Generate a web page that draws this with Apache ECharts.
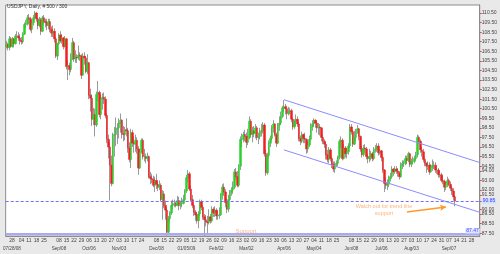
<!DOCTYPE html>
<html><head><meta charset="utf-8">
<script src="https://cdn.jsdelivr.net/npm/echarts@6/dist/echarts.min.js"></script>
<style>html,body{margin:0;padding:0;background:#e9e9e9}#c{width:500px;height:254px}</style>
</head><body><div id="c"></div>
<script>
const chartTitle = 'USDJPY, Daily, # 500 / 300';
const startDate = '2008-07-21', endDate = '2009-10-05', lastLabelDate = '2009-09-28';
// daily candles per month: [open, close, low, high]
const jul08 = [[107.0,107.2,106.8,107.6],[107.2,106.9,106.6,107.4],[106.9,107.8,106.6,108.1],[107.8,107.0,106.9,108.0],[107.0,107.8,106.9,108.0],[107.8,107.3,106.9,107.9],[107.3,108.1,107.2,108.3],[108.1,108.1,107.6,108.6],[108.1,107.9,107.6,108.5]];
const aug08 = [[107.9,107.6,107.2,108.3],[107.6,107.5,107.2,108.0],[107.5,108.3,107.3,108.5],[108.3,109.3,108.2,109.5],[109.3,109.4,108.9,109.8],[109.4,110.0,109.2,110.3],[110.0,109.9,109.3,110.4],[109.9,108.8,108.6,110.1],[108.8,109.5,108.4,109.7],[109.5,110.0,109.2,110.3],[110.0,110.5,109.8,110.7],[110.5,109.9,109.6,110.6],[109.9,109.2,108.8,110.0],[109.2,109.8,109.0,110.1],[109.8,108.6,108.2,110.0],[108.6,110.0,108.5,110.2],[110.0,109.6,109.3,110.3],[109.6,109.5,109.0,109.9],[109.5,109.2,108.7,109.9],[109.2,109.6,108.8,109.9],[109.6,108.8,108.5,109.9]];
const sep08 = [[108.8,108.4,108.0,109.1],[108.4,108.6,108.0,109.2],[108.6,107.8,107.4,108.9],[107.8,106.0,105.8,108.0],[106.0,107.3,105.6,107.4],[107.3,108.2,107.2,108.4],[108.2,107.6,107.4,108.6],[107.6,107.9,107.3,108.3],[107.9,107.0,106.7,108.0],[107.0,107.8,106.9,108.1],[107.8,104.9,104.6,107.9],[104.9,105.0,103.5,105.6],[105.0,104.6,104.0,105.3],[104.6,105.7,104.3,106.3],[105.7,107.4,105.6,107.9],[107.4,105.7,105.4,107.6],[105.7,105.9,105.3,106.6],[105.9,105.8,105.3,106.2],[105.8,106.1,105.6,107.1],[106.1,106.0,105.5,106.4],[106.0,104.0,103.6,106.2],[104.0,106.0,104.0,106.3]];
const oct08 = [[106.0,105.8,105.1,106.4],[105.8,104.4,104.2,106.0],[104.4,105.3,104.1,106.2],[105.3,101.9,101.5,105.4],[101.9,101.6,100.2,102.6],[101.6,99.4,98.7,102.0],[99.4,99.9,98.8,100.6],[99.9,98.8,97.6,100.5],[98.8,102.0,98.6,102.3],[102.0,102.2,101.3,103.4],[102.2,99.9,99.6,102.4],[99.9,101.5,99.4,102.0],[101.5,101.7,100.4,102.1],[101.7,101.5,101.0,102.2],[101.5,99.8,99.5,101.8],[99.8,97.3,96.9,100.0],[97.3,96.5,95.3,97.8],[96.5,94.6,90.9,97.0],[94.6,92.7,92.4,95.6],[92.7,97.8,92.6,98.0],[97.8,97.8,95.5,98.6],[97.8,98.4,96.6,99.6],[98.4,98.5,96.8,99.0]];
const nov08 = [[98.5,99.0,97.4,99.5],[99.0,99.3,98.0,100.0],[99.3,97.9,97.4,99.4],[97.9,97.8,97.1,98.7],[97.8,98.3,97.2,98.6],[98.3,98.2,97.6,99.5],[98.2,96.4,95.9,98.5],[96.4,95.2,94.9,97.0],[95.2,98.0,94.3,98.4],[98.0,96.9,96.5,98.3],[96.9,96.8,95.9,97.6],[96.8,97.2,96.0,97.8],[97.2,96.3,95.8,97.5],[96.3,94.3,93.6,96.6],[94.3,96.0,94.2,96.3],[96.0,97.2,95.8,97.4],[97.2,95.5,95.2,97.4],[95.5,95.5,95.0,96.3],[95.5,95.3,94.8,95.8],[95.3,95.5,95.0,95.9]];
const dec08 = [[95.5,93.4,93.2,95.6],[93.4,93.2,92.6,93.9],[93.2,93.1,92.7,93.7],[93.1,92.5,92.3,93.5],[92.5,93.0,91.8,93.4],[93.0,92.6,92.1,93.7],[92.6,92.3,91.9,93.0],[92.3,92.5,92.0,93.0],[92.5,91.0,90.8,92.7],[91.0,91.6,88.9,92.0],[91.6,90.4,90.1,91.9],[90.4,89.9,88.9,90.9],[89.9,87.6,87.1,90.2],[87.6,89.0,87.5,89.3],[89.0,89.6,88.7,89.8],[89.6,90.4,89.4,90.9],[90.4,90.5,90.0,91.0],[90.5,90.6,90.2,91.0],[90.6,90.4,90.2,90.8],[90.4,90.9,90.3,91.4],[90.9,90.4,89.9,91.3],[90.4,90.6,90.0,90.9],[90.6,90.6,90.2,91.2]];
const jan09 = [[90.6,91.0,90.5,91.5],[91.0,91.9,90.8,92.1],[91.9,93.3,91.7,93.6],[93.3,93.7,92.8,94.1],[93.7,92.1,91.9,93.9],[92.1,91.0,90.8,92.5],[91.0,90.4,90.1,91.5],[90.4,89.7,89.3,90.6],[89.7,89.4,88.8,89.9],[89.4,88.8,88.5,89.6],[88.8,89.5,88.0,89.8],[89.5,90.8,89.3,91.0],[90.8,90.2,89.9,91.0],[90.2,89.2,88.9,90.4],[89.2,88.9,87.1,89.5],[88.9,88.7,88.2,89.4],[88.7,88.6,87.5,89.3],[88.6,89.2,88.4,90.0],[89.2,88.8,88.5,89.5],[88.8,90.0,88.6,90.3],[90.0,89.6,89.2,90.2],[89.6,89.9,89.2,90.3]];
const feb09 = [[89.9,89.3,88.9,90.1],[89.3,89.4,88.9,89.9],[89.4,89.4,89.0,90.2],[89.4,91.5,89.3,91.7],[91.5,92.3,91.0,92.6],[92.3,91.8,91.4,92.7],[91.8,90.7,90.2,92.1],[90.7,90.0,89.6,91.1],[90.0,91.0,89.7,91.5],[91.0,91.8,90.9,92.0],[91.8,92.0,91.4,92.3],[92.0,92.3,91.6,92.9],[92.3,93.9,92.1,94.2],[93.9,93.4,93.1,94.3],[93.4,92.5,92.3,94.0],[92.5,94.5,92.3,94.7],[94.5,97.3,94.1,97.6],[97.3,97.3,96.5,97.9],[97.3,97.8,97.0,98.1],[97.8,97.6,97.1,98.3]];
const mar09 = [[97.6,97.0,96.4,98.0],[97.0,97.5,96.7,98.4],[97.5,99.2,97.3,99.7],[99.2,97.8,97.5,99.4],[97.8,98.2,97.0,98.6],[98.2,97.9,97.5,98.7],[97.9,98.5,97.4,98.9],[98.5,97.5,97.2,98.7],[97.5,97.6,96.8,98.0],[97.6,98.1,97.3,98.5],[98.1,98.2,97.6,98.9],[98.2,98.8,97.9,99.1],[98.8,95.8,95.5,99.0],[95.8,93.8,93.5,96.2],[93.8,95.6,93.6,95.9],[95.6,96.9,95.4,97.2],[96.9,97.4,96.5,97.7],[97.4,98.5,97.2,98.8],[98.5,98.9,98.0,99.3],[98.9,97.8,97.6,99.0],[97.8,96.9,96.5,98.0],[96.9,98.8,96.8,99.0]];
const apr09 = [[98.8,99.0,98.2,99.7],[99.0,99.7,98.8,100.2],[99.7,100.6,99.5,100.8],[100.6,100.7,100.2,101.4],[100.7,100.5,99.9,101.0],[100.5,100.0,99.4,100.8],[100.0,100.2,99.8,100.7],[100.2,100.3,99.9,100.6],[100.3,99.4,99.1,100.5],[99.4,98.6,98.3,99.6],[98.6,99.2,98.4,99.4],[99.2,99.4,98.7,99.9],[99.4,98.9,98.6,99.7],[98.9,97.4,97.1,99.1],[97.4,97.1,96.7,97.7],[97.1,97.8,96.9,98.1],[97.8,97.4,96.9,97.9],[97.4,97.3,96.9,98.0],[97.3,96.3,95.8,97.4],[96.3,96.7,95.9,97.1],[96.7,97.3,96.5,97.7],[97.3,98.6,97.2,99.0]];
const may09 = [[98.6,98.9,98.2,99.3],[98.9,99.3,98.6,99.5],[99.3,99.0,98.5,99.4],[99.0,98.5,98.0,99.3],[98.5,98.6,97.8,99.0],[98.6,98.5,97.7,98.9],[98.5,97.5,97.1,98.6],[97.5,97.1,96.8,97.8],[97.1,96.8,96.4,97.3],[96.8,95.7,95.2,97.0],[95.7,95.2,94.9,96.2],[95.2,96.2,94.8,96.5],[96.2,95.3,95.0,96.4],[95.3,94.7,94.3,95.5],[94.7,94.2,93.9,95.0],[94.2,94.7,93.8,95.0],[94.7,94.8,94.4,95.1],[94.8,95.4,94.5,95.6],[95.4,97.1,95.2,97.3],[97.1,97.2,96.4,97.6],[97.2,95.3,95.1,97.4]];
const jun09 = [[95.3,96.4,95.2,96.8],[96.4,95.8,95.4,96.6],[95.8,96.0,95.3,96.4],[96.0,96.6,95.7,96.9],[96.6,98.6,96.4,98.9],[98.6,98.1,97.8,98.9],[98.1,96.8,96.5,98.3],[96.8,97.5,96.7,98.2],[97.5,98.0,97.1,98.4],[98.0,98.4,97.9,98.8],[98.4,97.6,97.2,98.5],[97.6,96.3,96.0,97.7],[96.3,95.7,95.4,96.6],[95.7,96.4,95.5,96.7],[96.4,96.3,95.9,96.8],[96.3,95.5,95.2,96.5],[95.5,95.3,94.8,95.8],[95.3,95.5,94.9,96.3],[95.5,95.8,95.1,96.1],[95.8,95.3,95.0,96.0],[95.3,96.2,95.1,96.5],[96.2,96.3,95.9,96.7]];
const jul09 = [[96.3,96.6,96.0,96.9],[96.6,95.9,95.6,96.9],[95.9,96.1,95.7,96.3],[96.1,95.4,95.0,96.2],[95.4,94.1,93.8,95.6],[94.1,92.7,91.8,94.2],[92.7,92.5,92.1,93.3],[92.5,92.6,92.0,93.1],[92.6,93.2,92.3,93.5],[93.2,93.4,92.9,93.8],[93.4,94.2,93.3,94.5],[94.2,93.9,93.5,94.3],[93.9,94.2,93.7,94.5],[94.2,94.0,93.7,94.5],[94.0,93.8,93.4,94.3],[93.8,93.4,93.1,94.0],[93.4,94.6,93.3,94.9],[94.6,94.8,94.2,95.1],[94.8,94.8,94.4,95.1],[94.8,95.3,94.6,95.6],[95.3,95.1,94.7,95.6],[95.1,95.8,94.9,96.0],[95.8,94.7,94.4,95.9]];
const aug09 = [[94.7,95.0,94.4,95.3],[95.0,95.0,94.7,95.5],[95.0,95.3,94.8,95.6],[95.3,95.7,95.1,96.0],[95.7,97.5,95.4,97.8],[97.5,97.1,96.8,97.7],[97.1,96.2,95.9,97.3],[96.2,96.0,95.5,96.5],[96.0,95.2,94.9,96.3],[95.2,94.8,94.5,95.4],[94.8,94.5,93.8,94.9],[94.5,94.6,94.1,95.0],[94.6,93.9,93.6,94.9],[93.9,94.4,93.8,94.7],[94.4,94.6,94.0,95.2],[94.6,94.6,94.2,95.0],[94.6,94.1,93.8,94.9],[94.1,94.1,93.7,94.5],[94.1,93.6,93.3,94.3],[93.6,93.6,93.3,94.0],[93.6,93.0,92.8,93.8]];
const sep09 = [[93.0,92.9,92.6,93.5],[92.9,92.3,91.8,93.1],[92.3,92.6,92.0,92.9],[92.6,93.0,92.3,93.4],[93.0,92.6,92.4,93.2],[92.6,92.2,91.9,92.9],[92.2,91.9,91.5,92.4],[91.9,91.3,90.9,92.2],[91.3,90.85,90.3,91.5]];

const yTickLabels = [110.5,109.5,108.5,107.5,106.5,105.5,104.5,103.5,102.5,101.5,100.5,99.5,98.5,97.5,96.5,95.5,94.5,94.0,93.0,92.0,91.5,90.85,90.0,89.5,88.5,87.5];
const currentPrice = 90.85;
const supportLevel = 87.47;
const upperChannel = [['2009-04-06', 101.44], ['2009-10-05', 94.9]];
const lowerChannel = [['2009-04-06', 96.2], ['2009-10-05', 89.7]];
const arrowLine = [['2009-07-29', 89.7], ['2009-09-03', 90.23]];
const skipMondays = ['2008-07-21', '2008-09-01', '2008-12-01', '2009-06-01'];
const monthLabels = {'2008-07-28':'07/28/08','2008-09-08':'Sep/08','2008-10-06':'Oct/06','2008-11-03':'Nov/03','2008-12-08':'Dec/08','2009-01-05':'01/05/09','2009-02-02':'Feb/02','2009-03-02':'Mar/02','2009-04-06':'Apr/06','2009-05-04':'May/04','2009-06-08':'Jun/08','2009-07-06':'Jul/06','2009-08-03':'Aug/03','2009-09-07':'Sep/07'};

// trading-day categories
const dates = [];
for (let d = new Date(startDate + 'T00:00:00Z'); d <= new Date(endDate + 'T00:00:00Z'); d.setUTCDate(d.getUTCDate() + 1)) {
  const wd = d.getUTCDay();
  if (wd === 0 || wd === 6) continue;
  dates.push(d.toISOString().slice(0, 10));
}
const ohlc = [].concat(jul08, aug08, sep08, oct08, nov08, dec08, jan09, feb09, mar09, apr09, may09, jun09, jul09, aug09, sep09);
const wickData = ohlc.map(r => [r[0], r[1], r[2], r[3]]);
const bodyData = ohlc.map(r => [r[0], r[1], Math.min(r[0], r[1]), Math.max(r[0], r[1])]);
const firstLabel = '2008-07-28';

function isLabelDay(i) {
  const s = dates[i];
  const wd = new Date(s + 'T00:00:00Z').getUTCDay();
  return wd === 1 && skipMondays.indexOf(s) < 0 && s <= lastLabelDate;
}
function isMonthDay(i) { return !!monthLabels[dates[i]]; }

const chart = echarts.init(document.getElementById('c'), null, {renderer: 'canvas'});
const FONT = 'Liberation Sans';
chart.setOption({
  animation: false,
  backgroundColor: '#e9e9e9',
  title: {text: chartTitle, left: 2, top: -1, textStyle: {fontSize: 5, fontWeight: 'normal', color: '#333', fontFamily: FONT}},
  grid: {left: 2, right: 19, top: 5, bottom: 18, show: true, backgroundColor: '#ffffff', borderColor: '#8c8c8c', borderWidth: 1},
  xAxis: [{
    type: 'category', data: dates, boundaryGap: true,
    axisLine: {lineStyle: {color: '#8c8c8c'}},
    axisTick: {interval: (i) => isLabelDay(i), alignWithLabel: true, length: 2, lineStyle: {color: '#e04848'}},
    axisLabel: {
      interval: (i) => isLabelDay(i), margin: 2, fontSize: 5, color: '#444', fontFamily: FONT,
      hideOverlap: false, showMinLabel: true,
      formatter: (v) => v === firstLabel ? '{f|' + v.slice(8, 10) + '}' : v.slice(8, 10),
      rich: {f: {fontSize: 5, color: '#444', fontFamily: FONT, padding: [0, 4, 0, 0]}}
    },
    splitLine: {show: false}
  }, {
    type: 'category', data: dates, boundaryGap: true, position: 'bottom', gridIndex: 0,
    axisLine: {show: false}, axisTick: {show: false}, splitLine: {show: false},
    axisLabel: {
      interval: (i) => isMonthDay(i), margin: 10, fontSize: 4.6, color: '#444', fontFamily: FONT,
      hideOverlap: false, showMinLabel: true,
      formatter: (v) => v === firstLabel ? '{f|' + monthLabels[v] + '}' : (monthLabels[v] || ''),
      rich: {f: {fontSize: 4.6, color: '#444', fontFamily: FONT, padding: [0, 4, 0, 0]}}
    }
  }],
  yAxis: {
    type: 'value', position: 'right', min: 87.2, max: 111.34, scale: true,
    axisLine: {show: true, lineStyle: {color: '#8c8c8c'}},
    axisTick: {show: true, customValues: yTickLabels, length: 2, lineStyle: {color: '#e04848'}},
    axisLabel: {
      customValues: yTickLabels, margin: 2, fontSize: 5, color: '#444', fontFamily: FONT,
      formatter: (v) => v === currentPrice ? '{cur|' + v.toFixed(2) + '}' : v.toFixed(2),
      rich: {cur: {fontSize: 5, color: '#3b3bff', backgroundColor: '#cfe0ff', padding: [0, 1], fontFamily: FONT}}
    },
    splitLine: {show: false}
  },
  series: [
    {
      type: 'candlestick', data: wickData, barWidth: 1,
      itemStyle: {color: '#9a9a9a', color0: '#9a9a9a', borderColor: '#9a9a9a', borderColor0: '#9a9a9a', borderWidth: 1},
      markLine: {
        silent: true, symbol: ['none', 'none'], animation: false,
        data: [
          [{coord: upperChannel[0], lineStyle: {color: '#8c8cff', width: 1, type: 'solid'}}, {coord: upperChannel[1]}],
          [{coord: lowerChannel[0], lineStyle: {color: '#8c8cff', width: 1, type: 'solid'}}, {coord: lowerChannel[1]}],
          {yAxis: currentPrice, lineStyle: {color: '#7070ff', width: 1, type: [3, 2]}, label: {show: false}},
          {yAxis: supportLevel, lineStyle: {color: '#a8a8ff', width: 2, type: 'solid'},
           label: {show: true, position: 'insideEndTop', distance: [0, 0], formatter: supportLevel.toFixed(2), fontSize: 5, color: '#4444ff', backgroundColor: '#dde6ff', padding: [0, 1], fontFamily: FONT}}
        ],
        label: {show: false}
      }
    },
    {
      type: 'candlestick', data: bodyData, barWidth: 2,
      itemStyle: {color: '#2ccf2c', color0: '#f02020', borderColor: '#2ccf2c', borderColor0: '#f02020', borderWidth: 0.5},
      markLine: {
        silent: true, symbol: ['none', 'arrow'], symbolSize: [5, 6], animation: false,
        data: [[{coord: arrowLine[0]}, {coord: arrowLine[1]}]],
        lineStyle: {color: '#ff9a2a', width: 1.5, type: 'solid'},
        label: {show: false}
      }
    }
  ],
  graphic: [
    {type: 'text', x: 246, y: 228, style: {text: 'Support', align: 'center', fontSize: 6, fill: '#ffb27a', fontFamily: FONT}},
    {type: 'text', x: 384, y: 203, style: {text: 'Watch out for trend line\nsupport', align: 'center', fontSize: 5.5, lineHeight: 7, fill: '#ffb27a', fontFamily: FONT}}
  ]
});
</script>
</body></html>
